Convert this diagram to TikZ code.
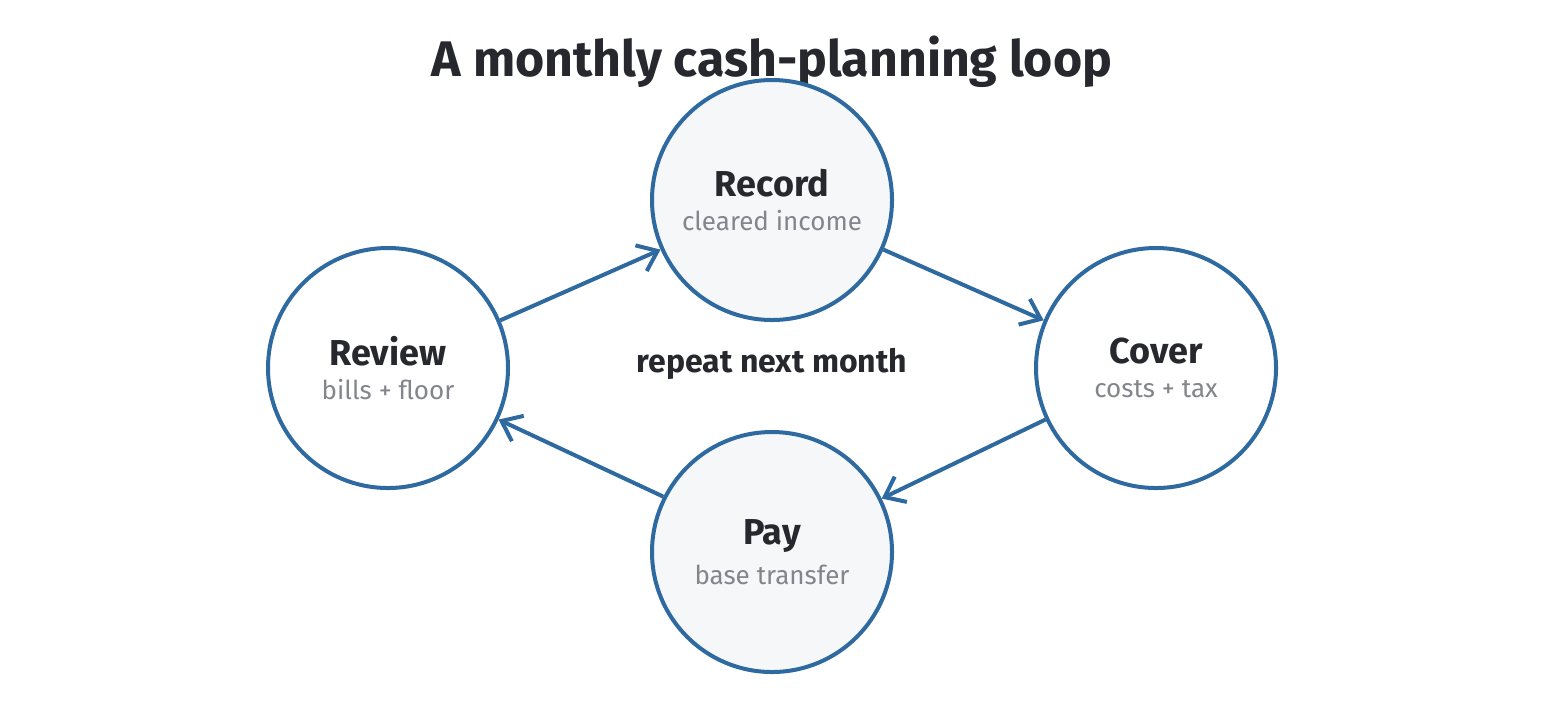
\documentclass[tikz,border=0pt]{standalone}
\usepackage{fontspec}
\setmainfont{Fira Sans}
\newlength{\du}
\setlength{\du}{0.5pt}
\definecolor{loopblue}{RGB}{46,106,160}
\definecolor{inkdark}{RGB}{38,40,46}
\definecolor{inkgrey}{RGB}{130,134,140}
\definecolor{paleface}{RGB}{245,247,249}
\tikzset{
  stage/.style={circle, draw=loopblue, line width=4\du, minimum size=240\du, inner sep=0pt, align=center, text=inkdark},
  flow/.style={draw=loopblue, line width=4\du, -{Straight Barb[length=9pt,width=14pt,line width=2pt]}},
}
\usetikzlibrary{arrows.meta}
\newcommand{\stagetext}[2]{{\fontsize{18}{20}\selectfont\bfseries #1}\\[5pt]{\fontsize{13}{15}\selectfont\color{inkgrey}#2}}
\begin{document}
\begin{tikzpicture}[x=\du,y=-\du]
\useasboundingbox (0,0) rectangle (1546,720);
% title
\node[text=inkdark, font=\fontsize{25}{28}\selectfont\bfseries] (title) at (772,62) {A monthly cash-planning loop};
% stages
\node[stage, fill=paleface] (record) at (772,200) {\stagetext{Record}{cleared income}};
\node[stage, fill=white] (review) at (388,368) {\stagetext{Review}{bills + floor}};
\node[stage, fill=white] (cover) at (1156,368) {\stagetext{Cover}{costs + tax}};
\node[stage, fill=paleface] (pay) at (772,552) {\stagetext{Pay}{base transfer}};
\node[text=inkdark, font=\fontsize{16}{18}\selectfont\bfseries] (centre) at (772,364) {repeat next month};
% arrows
\draw[flow] (review.23) -- (record.204);
\draw[flow] (record.-24) -- (cover.157);
\draw[flow] (cover.205) -- (pay.26);
\draw[flow] (pay.153) -- (review.-25);
\end{tikzpicture}
\end{document}
